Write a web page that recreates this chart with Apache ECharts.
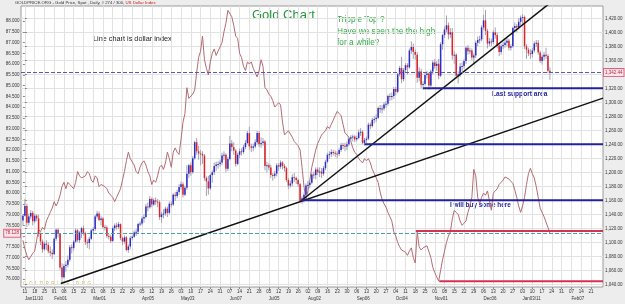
<!DOCTYPE html>
<html>
<head>
<meta charset="utf-8">
<title>Gold Chart</title>
<script src="https://cdn.jsdelivr.net/npm/echarts@6.0.0/dist/echarts.min.js"></script>
<style>
  html, body { margin: 0; padding: 0; background: #ededed; }
  #GoldChart { width: 625px; height: 304px; }
</style>
</head>
<body>
<div id="GoldChart"></div>
<script>
/* bar 0 = Mon Jan 11 2010, one bar per trading day, first bar is Jan 08 */
const firstBar = -1

/* weekly axis labels (Mondays) */
const weekDays = ['11', '18', '25', '01', '08', '15', '22', '01', '08', '15', '22', '29',
  '05', '12', '19', '26', '03', '10', '17', '24', '31', '07', '14', '21', '28',
  '05', '12', '19', '26', '02', '09', '16', '23', '30', '06', '13', '20', '27',
  '04', '11', '18', '25', '01', '08', '15', '22', '29', '06', '13', '20', '27',
  '03', '10', '17', '24', '31', '07', '14', '21']
const monthWeeks = [0, 3, 7, 12, 16, 21, 25, 29, 34, 38, 42, 47, 51, 56]
const monthNames = ['Jan11/10', 'Feb01', 'Mar01', 'Apr05', 'May03', 'Jun07', 'Jul05',
  'Aug02', 'Sep06', 'Oct04', 'Nov01', 'Dec06', 'Jan03/11', 'Feb07']

const goldTicks = [1040, 1060, 1080, 1100, 1120, 1140, 1160, 1180, 1200, 1220, 1240,
  1260, 1280, 1300, 1320, 1340, 1360, 1380, 1400, 1420]
const dollarTicks = [76, 76.5, 77, 77.5, 78, 78.5, 79, 79.5, 80, 80.5, 81, 81.5, 82,
  82.5, 83, 83.5, 84, 84.5, 85, 85.5, 86, 86.5, 87, 87.5, 88]

/* gold, daily OHLC (one week per row) */
const goldOpen = [1131,
  1138, 1152, 1128, 1137, 1142, 1130, 1138, 1134, 1112, 1101,
  1090, 1098, 1096, 1087, 1085, 1083, 1105, 1118, 1112, 1064,
  1050, 1066, 1068, 1075, 1093, 1092, 1101, 1117, 1103, 1114,
  1120, 1113, 1100, 1099, 1105, 1117, 1119, 1137, 1141, 1132,
  1134, 1122, 1121, 1109, 1108, 1102, 1120, 1124, 1122, 1126,
  1106, 1101, 1107, 1089, 1094, 1106, 1108, 1114, 1115, 1126,
  1127, 1134, 1136, 1151, 1150, 1162, 1154, 1160, 1158, 1157,
  1136, 1140, 1141, 1148, 1142, 1155, 1154, 1168, 1166, 1172,
  1179, 1183, 1168, 1178, 1198, 1210, 1200, 1220, 1243, 1230,
  1227, 1226, 1224, 1192, 1187, 1177, 1196, 1200, 1209, 1211,
  1212, 1214, 1224, 1225, 1205, 1219, 1241, 1236, 1231, 1212,
  1225, 1230, 1229, 1236, 1242, 1256, 1237, 1235, 1237, 1243,
  1256, 1240, 1242, 1244, 1209, 1210, 1207, 1196, 1195, 1198,
  1210, 1208, 1214, 1209, 1206, 1189, 1181, 1184, 1193, 1192,
  1189, 1183, 1159, 1163, 1168, 1181, 1182, 1185, 1197, 1196,
  1204, 1200, 1201, 1198, 1206, 1215, 1225, 1226, 1229, 1228,
  1227, 1226, 1232, 1239, 1238, 1237, 1240, 1248, 1250, 1251,
  1247, 1249, 1257, 1258, 1242, 1246, 1248, 1268, 1266, 1275,
  1276, 1278, 1292, 1290, 1291, 1297, 1298, 1309, 1308, 1309,
  1319, 1315, 1340, 1349, 1333, 1346, 1353, 1350, 1374, 1379,
  1372, 1368, 1335, 1344, 1325, 1326, 1339, 1341, 1324, 1344,
  1357, 1352, 1355, 1338, 1383, 1396, 1404, 1410, 1397, 1400,
  1367, 1368, 1338, 1340, 1351, 1352, 1359, 1378, 1373, 1374,
  1364, 1367, 1385, 1389, 1390, 1407, 1417, 1402, 1384, 1387,
  1386, 1400, 1396, 1381, 1372, 1380, 1382, 1385, 1388, 1378,
  1380, 1406, 1409, 1407, 1415, 1421, 1422, 1380, 1375, 1370,
  1369, 1374, 1384, 1385, 1371, 1359, 1365, 1368, 1366, 1345]
const goldClose = [1138,
  1152, 1128, 1137, 1142, 1130, 1138, 1134, 1112, 1101, 1090,
  1098, 1096, 1087, 1085, 1083, 1105, 1118, 1112, 1064, 1050,
  1066, 1068, 1075, 1093, 1092, 1101, 1117, 1103, 1114, 1120,
  1113, 1100, 1099, 1105, 1117, 1119, 1137, 1141, 1132, 1134,
  1122, 1121, 1109, 1108, 1102, 1120, 1124, 1122, 1126, 1106,
  1101, 1107, 1089, 1094, 1106, 1108, 1114, 1115, 1126, 1127,
  1134, 1136, 1151, 1150, 1162, 1154, 1160, 1158, 1157, 1136,
  1140, 1141, 1148, 1142, 1155, 1154, 1168, 1166, 1172, 1179,
  1183, 1168, 1178, 1198, 1210, 1200, 1220, 1243, 1230, 1227,
  1226, 1224, 1192, 1187, 1177, 1196, 1200, 1209, 1211, 1212,
  1214, 1224, 1225, 1205, 1219, 1241, 1236, 1231, 1212, 1225,
  1230, 1229, 1236, 1242, 1256, 1237, 1235, 1237, 1243, 1256,
  1240, 1242, 1244, 1209, 1210, 1207, 1196, 1195, 1198, 1210,
  1208, 1214, 1209, 1206, 1189, 1181, 1184, 1193, 1192, 1189,
  1183, 1159, 1163, 1168, 1181, 1182, 1185, 1197, 1196, 1204,
  1200, 1201, 1198, 1206, 1215, 1225, 1226, 1229, 1228, 1227,
  1226, 1232, 1239, 1238, 1237, 1240, 1248, 1250, 1251, 1247,
  1249, 1257, 1258, 1242, 1246, 1248, 1268, 1266, 1275, 1276,
  1278, 1292, 1290, 1291, 1297, 1298, 1309, 1308, 1309, 1319,
  1315, 1340, 1349, 1333, 1346, 1353, 1350, 1374, 1379, 1372,
  1368, 1335, 1344, 1325, 1326, 1339, 1341, 1324, 1344, 1357,
  1352, 1355, 1338, 1383, 1396, 1404, 1410, 1397, 1400, 1367,
  1368, 1338, 1340, 1351, 1352, 1359, 1378, 1373, 1374, 1364,
  1367, 1385, 1389, 1390, 1407, 1417, 1402, 1384, 1387, 1386,
  1400, 1396, 1381, 1372, 1380, 1382, 1385, 1388, 1378, 1380,
  1406, 1409, 1407, 1415, 1421, 1422, 1380, 1375, 1370, 1369,
  1374, 1384, 1385, 1371, 1359, 1365, 1368, 1366, 1345, 1342.44]
const goldLow = [1124,
  1137, 1122, 1124, 1133, 1124, 1127, 1130, 1108, 1096, 1085,
  1088, 1089, 1084, 1080, 1076, 1082, 1102, 1107, 1061, 1044,
  1048, 1058, 1064, 1072, 1084, 1088, 1099, 1100, 1099, 1106,
  1110, 1096, 1092, 1090, 1103, 1113, 1116, 1134, 1130, 1124,
  1119, 1117, 1106, 1104, 1099, 1100, 1116, 1118, 1119, 1103,
  1096, 1098, 1087, 1085, 1090, 1103, 1106, 1109, 1113, 1123,
  1124, 1128, 1134, 1144, 1148, 1150, 1152, 1153, 1150, 1132,
  1128, 1134, 1138, 1136, 1140, 1150, 1152, 1159, 1163, 1168,
  1175, 1164, 1166, 1175, 1192, 1195, 1198, 1218, 1225, 1218,
  1210, 1212, 1188, 1166, 1168, 1175, 1185, 1196, 1202, 1205,
  1208, 1210, 1218, 1200, 1202, 1217, 1230, 1225, 1208, 1210,
  1220, 1224, 1226, 1233, 1240, 1232, 1229, 1230, 1234, 1240,
  1236, 1235, 1238, 1203, 1200, 1203, 1192, 1188, 1191, 1194,
  1202, 1205, 1204, 1201, 1186, 1176, 1178, 1180, 1186, 1183,
  1179, 1157, 1155, 1157, 1165, 1175, 1177, 1183, 1191, 1190,
  1196, 1193, 1192, 1195, 1203, 1213, 1219, 1222, 1224, 1222,
  1220, 1223, 1229, 1233, 1230, 1232, 1237, 1244, 1244, 1243,
  1244, 1247, 1252, 1240, 1238, 1242, 1246, 1262, 1264, 1270,
  1272, 1276, 1285, 1284, 1288, 1292, 1295, 1302, 1303, 1305,
  1310, 1313, 1337, 1327, 1330, 1343, 1340, 1348, 1369, 1362,
  1361, 1328, 1330, 1320, 1318, 1324, 1334, 1318, 1322, 1340,
  1348, 1345, 1333, 1336, 1375, 1392, 1400, 1390, 1392, 1361,
  1355, 1334, 1327, 1336, 1344, 1348, 1355, 1368, 1369, 1360,
  1355, 1363, 1380, 1384, 1387, 1404, 1396, 1377, 1380, 1380,
  1383, 1391, 1377, 1366, 1368, 1376, 1378, 1380, 1374, 1374,
  1378, 1401, 1400, 1404, 1410, 1412, 1376, 1362, 1366, 1362,
  1364, 1371, 1379, 1368, 1356, 1354, 1360, 1362, 1342, 1332]
const goldHigh = [1140,
  1162, 1155, 1141, 1146, 1145, 1141, 1140, 1139, 1114, 1104,
  1101, 1103, 1100, 1094, 1090, 1107, 1120, 1120, 1113, 1070,
  1069, 1073, 1081, 1096, 1097, 1103, 1120, 1119, 1116, 1122,
  1124, 1115, 1104, 1108, 1119, 1122, 1139, 1145, 1144, 1138,
  1136, 1125, 1124, 1112, 1111, 1123, 1127, 1128, 1129, 1127,
  1108, 1110, 1109, 1097, 1109, 1110, 1117, 1119, 1128, 1130,
  1137, 1140, 1155, 1157, 1166, 1164, 1163, 1164, 1162, 1160,
  1143, 1147, 1151, 1151, 1158, 1159, 1170, 1172, 1175, 1183,
  1187, 1186, 1181, 1210, 1212, 1214, 1223, 1245, 1249, 1238,
  1232, 1230, 1226, 1194, 1195, 1198, 1203, 1214, 1215, 1216,
  1218, 1228, 1230, 1227, 1222, 1252, 1246, 1243, 1233, 1228,
  1234, 1234, 1239, 1246, 1259, 1265, 1241, 1241, 1247, 1259,
  1259, 1250, 1249, 1246, 1215, 1213, 1211, 1199, 1202, 1213,
  1213, 1217, 1216, 1212, 1208, 1192, 1188, 1197, 1199, 1194,
  1191, 1185, 1166, 1171, 1184, 1188, 1189, 1199, 1201, 1207,
  1207, 1207, 1206, 1209, 1218, 1228, 1230, 1233, 1232, 1231,
  1230, 1235, 1242, 1242, 1242, 1244, 1250, 1253, 1254, 1253,
  1252, 1261, 1263, 1260, 1249, 1251, 1271, 1271, 1278, 1280,
  1283, 1294, 1296, 1296, 1300, 1302, 1311, 1313, 1314, 1322,
  1322, 1342, 1352, 1365, 1349, 1356, 1356, 1377, 1387, 1384,
  1375, 1372, 1350, 1348, 1330, 1343, 1345, 1343, 1347, 1360,
  1362, 1359, 1362, 1386, 1398, 1408, 1424, 1414, 1406, 1406,
  1373, 1370, 1344, 1356, 1357, 1362, 1380, 1382, 1378, 1377,
  1370, 1388, 1394, 1395, 1410, 1425, 1432, 1405, 1392, 1391,
  1403, 1407, 1400, 1384, 1383, 1386, 1390, 1392, 1391, 1383,
  1408, 1414, 1412, 1420, 1424, 1426, 1424, 1383, 1378, 1376,
  1378, 1387, 1389, 1389, 1374, 1368, 1372, 1378, 1369, 1350]

/* US dollar index, daily close */
const dollarIndex = [77.8,
  77.4, 77.1, 76.9, 76.9, 77.2, 77.3, 77.8, 78.3, 78.2, 78.4,
  78.3, 78.7, 78.9, 79.1, 79.3, 79.6, 79.4, 79.6, 79.9, 80.3,
  80.5, 80.2, 80.5, 80.4, 80.3, 80.2, 80.5, 81.0, 80.8, 80.7,
  80.7, 80.8, 81.0, 80.9, 80.6, 80.5, 80.8, 80.7, 80.3, 80.4,
  80.4, 80.3, 80.2, 80.0, 80.0, 79.8, 79.6, 79.8, 80.0, 80.2,
  80.6, 81.0, 81.5, 81.9, 81.6, 81.6, 81.3, 81.0, 80.9, 81.2,
  81.4, 81.5, 81.3, 81.0, 80.8, 80.4, 80.6, 80.5, 80.8, 81.2,
  81.3, 81.1, 81.4, 81.9, 81.6, 81.2, 81.9, 82.1, 81.9, 81.8,
  82.5, 83.3, 83.7, 84.9, 84.4, 84.4, 84.6, 84.8, 85.6, 86.3,
  86.6, 87.3, 86.2, 85.8, 85.5, 86.1, 86.5, 86.7, 86.4, 86.6,
  86.8, 87.0, 87.5, 87.9, 88.5, 88.5, 88.2, 87.8, 87.3, 87.2,
  86.5, 86.3, 85.9, 85.7, 86.1, 86.0, 86.1, 85.8, 85.6, 85.4,
  85.7, 86.2, 85.9, 84.9, 84.8, 84.6, 84.5, 84.3, 84.0, 84.1,
  84.2, 84.1, 83.3, 82.7, 82.8, 82.9, 82.9, 82.6, 82.4, 82.3,
  82.2, 82.0, 81.2, 80.3, 79.7, 80.1, 80.6, 81.2, 81.6, 82.0,
  82.3, 82.5, 82.7, 82.8, 82.9, 83.1, 83.0, 83.2, 83.4, 83.6,
  83.8, 83.7, 83.6, 83.2, 82.8, 82.8, 82.6, 82.4, 82.1, 81.9,
  81.8, 81.6, 81.5, 81.4, 81.6, 81.5, 81.6, 81.4, 81.1, 80.9,
  80.9, 80.5, 80.05, 79.7, 79.5, 79.35, 79.1, 78.9, 78.7, 78.2,
  78.0, 77.7, 77.5, 77.35, 77.3, 77.25, 77.1, 77.3, 77.45, 77.0,
  76.75, 78.2, 77.5, 77.35, 77.45, 77.4, 77.55, 77.6, 77.0, 76.55,
  76.3, 76.1, 75.9, 76.4, 76.9, 77.3, 77.7, 78.0, 78.2, 78.8,
  79.2, 79.1, 79.0, 78.7, 78.5, 78.6, 78.7, 79.1, 79.4, 79.8,
  81.1, 80.8, 79.8, 79.5, 79.8, 80.0, 79.9, 80.1, 80.15, 79.2,
  80.0, 80.1, 80.2, 80.4, 80.5, 80.6, 80.75, 80.7, 80.65, 80.6,
  80.45, 80.15, 79.8, 79.4, 79.1, 79.4, 79.8, 80.4, 80.9, 81.15,
  80.9, 80.7, 80.3, 79.8, 79.3, 79.35, 78.9, 78.85, 78.4, 78.128]

/* drawn annotations, in bar / price units */
const trendLines = [
  [[141.9, 1160], [275, 1455]],
  [[18.4, 1041], [296.2, 1306]]
]
const supportLevels = [[204, 1320], [174, 1240], [142, 1160]]
const dollarLevels = [[200.3, 78.23], [212.3, 75.9]]

const FONT = '"Liberation Sans", Arial, sans-serif'
const xMin = -2
const xMax = 296.2
const lastGold = goldClose[goldClose.length - 1]
const lastDollar = dollarIndex[dollarIndex.length - 1]

const weekTicks = weekDays.map((d, i) => i * 5)
const monthTicks = monthWeeks.map(w => w * 5)

const candleData = goldClose.map((c, i) => [i + firstBar, goldOpen[i], c, goldLow[i], goldHigh[i]])
const dollarData = dollarIndex.map((v, i) => [i + firstBar, v])

function renderCandle(params, api) {
  const x = api.value(0)
  const o = api.value(1)
  const c = api.value(2)
  const pO = api.coord([x, o])
  const pC = api.coord([x, c])
  const pL = api.coord([x, api.value(3)])
  const pH = api.coord([x, api.value(4)])
  const w = 1.5
  const top = Math.min(pO[1], pC[1])
  return {
    type: 'group',
    children: [
      {
        type: 'line',
        shape: { x1: pL[0], y1: pL[1], x2: pH[0], y2: pH[1] },
        style: { stroke: '#a2a2b4', lineWidth: 1 }
      },
      {
        type: 'rect',
        shape: { x: pO[0] - w / 2, y: top, width: w, height: Math.max(Math.abs(pO[1] - pC[1]), 1) },
        style: { fill: c >= o ? '#2c2cc8' : '#dd2228' }
      }
    ]
  }
}

const chart = echarts.init(document.getElementById('GoldChart'))

const lineSeries = (name, data, color, width, yIdx) => ({
  name,
  type: 'line',
  data,
  xAxisIndex: 0,
  yAxisIndex: yIdx,
  symbol: 'none',
  silent: true,
  clip: true,
  z: 4,
  lineStyle: { color, width }
})

const series = [
  /* dollar index line */
  {
    name: 'US Dollar Index',
    type: 'line',
    data: dollarData,
    xAxisIndex: 0,
    yAxisIndex: 0,
    symbol: 'none',
    silent: true,
    z: 2,
    lineStyle: { color: '#b46c72', width: 1 },
    markLine: {
      silent: true,
      symbol: 'none',
      animation: false,
      lineStyle: { type: 'dashed', color: '#4f9fa6', width: 1 },
      label: {
        position: 'start',
        distance: 1,
        formatter: lastDollar.toFixed(3),
        fontSize: 4.5,
        fontFamily: FONT,
        color: '#b0283c',
        backgroundColor: '#fde6ec',
        borderColor: '#e2607e',
        borderWidth: 1,
        padding: [1, 1]
      },
      data: [{ yAxis: lastDollar }]
    }
  },
  /* gold candles */
  {
    name: 'Gold',
    type: 'custom',
    renderItem: renderCandle,
    data: candleData,
    encode: { x: 0, y: [1, 2, 3, 4] },
    xAxisIndex: 0,
    yAxisIndex: 1,
    clip: true,
    silent: true,
    z: 3
  }
]

trendLines.forEach((seg, i) => {
  const s = lineSeries('trend' + i, seg, '#111111', 1.5, 1)
  if (i === 0) {
    s.markLine = {
      silent: true,
      symbol: 'none',
      animation: false,
      lineStyle: { type: 'dashed', color: '#5a5aa8', width: 1 },
      label: {
        position: 'end',
        distance: 1,
        formatter: lastGold.toLocaleString('en-US', { minimumFractionDigits: 2 }),
        fontSize: 4.5,
        fontFamily: FONT,
        color: '#b0283c',
        backgroundColor: '#fde6ec',
        borderColor: '#e2607e',
        borderWidth: 1,
        padding: [1, 1]
      },
      data: [{ yAxis: lastGold }]
    }
  }
  series.push(s)
})
supportLevels.forEach((lv, i) => {
  series.push(lineSeries('support' + i, [[lv[0], lv[1]], [xMax, lv[1]]], '#22229a', 2, 1))
})
dollarLevels.forEach((lv, i) => {
  series.push(lineSeries('dollar' + i, [[lv[0], lv[1]], [xMax, lv[1]]], '#d83252', 2, 0))
})

const tinyLabel = { fontSize: 4.5, fontFamily: FONT, color: '#333333' }

chart.setOption({
  animation: false,
  backgroundColor: '#ededed',
  textStyle: { fontFamily: FONT },
  grid: {
    left: 21,
    right: 22,
    top: 6,
    bottom: 17,
    show: true,
    backgroundColor: '#ffffff',
    borderColor: '#9a9a9a',
    borderWidth: 1,
    outerBoundsMode: 'none'
  },
  xAxis: [
    {
      type: 'value',
      min: xMin,
      max: xMax,
      position: 'bottom',
      axisLine: { show: false },
      axisTick: { show: true, length: 2, customValues: weekTicks, lineStyle: { color: '#888888' } },
      axisLabel: Object.assign({ customValues: weekTicks, margin: 2, formatter: v => weekDays[Math.round(v / 5)] }, tinyLabel),
      splitLine: { show: true, lineStyle: { color: '#e2e2e2', width: 1 } }
    },
    {
      type: 'value',
      min: xMin,
      max: xMax,
      position: 'bottom',
      offset: 7,
      axisLine: { show: false },
      axisTick: { show: false },
      splitLine: { show: false },
      axisLabel: Object.assign({
        customValues: monthTicks,
        margin: 2,
        align: 'left',
        formatter: v => monthNames[monthTicks.indexOf(Math.round(v))]
      }, tinyLabel)
    }
  ],
  yAxis: [
    {
      type: 'value',
      position: 'left',
      min: 75.63,
      max: 88.7,
      axisLine: { show: false },
      axisTick: { show: true, length: 2, customValues: dollarTicks, lineStyle: { color: '#888888' } },
      axisLabel: Object.assign({ customValues: dollarTicks, margin: 1.5, formatter: v => v.toFixed(3) }, tinyLabel),
      splitLine: { show: false }
    },
    {
      type: 'value',
      position: 'right',
      min: 1036.1,
      max: 1437.6,
      axisLine: { show: false },
      axisTick: { show: true, length: 2, customValues: goldTicks, lineStyle: { color: '#888888' } },
      axisLabel: Object.assign({
        customValues: goldTicks,
        margin: 2,
        formatter: v => v.toLocaleString('en-US', { minimumFractionDigits: 2, maximumFractionDigits: 2 })
      }, tinyLabel),
      splitLine: { show: true, lineStyle: { color: '#e2e2e2', width: 1 } }
    }
  ],
  series,
  graphic: [
    {
      type: 'text',
      left: 15,
      top: 0.5,
      silent: true,
      style: {
        text: '{a|GOLDPRICE.ORG - Gold Price, Spot , Daily, # 274 / 300, }{b|US Dollar Index}',
        rich: {
          a: { fontSize: 4.3, fontFamily: FONT, fill: '#333333', color: '#333333' },
          b: { fontSize: 4.3, fontFamily: FONT, fill: '#d02020', color: '#d02020' }
        }
      }
    },
    {
      type: 'text',
      left: 252,
      top: 8.5,
      silent: true,
      style: { text: 'Gold Chart', fill: '#22963a', font: '13px ' + FONT }
    },
    {
      type: 'text',
      left: 337,
      top: 14,
      silent: true,
      style: {
        text: 'Tripple Top ?\nHave we seen the the high\nfor a while?',
        fill: '#30a844',
        font: '8.3px ' + FONT,
        lineHeight: 11.5
      }
    },
    {
      type: 'text',
      left: 93,
      top: 35,
      silent: true,
      style: { text: 'Line chart is dollar index', fill: '#222222', font: '7.3px ' + FONT }
    },
    {
      type: 'text',
      left: 492,
      top: 90.5,
      silent: true,
      style: { text: 'Last support area', fill: '#22229a', font: 'bold 6.6px ' + FONT }
    },
    {
      type: 'text',
      left: 450,
      top: 202.5,
      silent: true,
      style: { text: 'I will buy some here', fill: '#22229a', font: 'bold 6.4px ' + FONT }
    },
    {
      type: 'text',
      left: 23,
      top: 281.5,
      silent: true,
      style: { text: 'G  O  L  D  P  R  I  C  E  .  O  R  G', fill: '#c9b458', font: '4.5px ' + FONT }
    }
  ]
})
</script>
</body>
</html>
